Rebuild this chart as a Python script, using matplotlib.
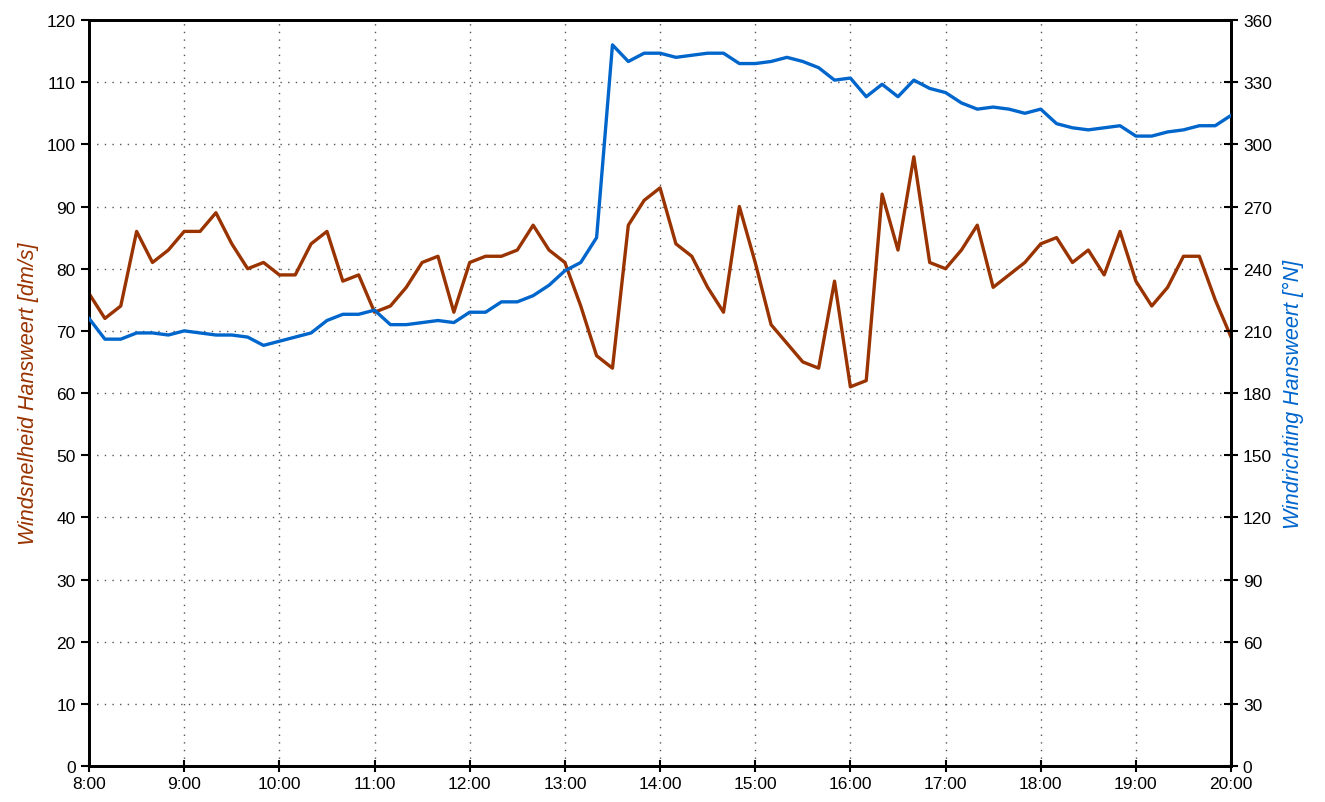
import matplotlib
import matplotlib.pyplot as plt
import numpy as np

matplotlib.use('Agg')

plt.rcParams['font.family'] = ['Liberation Sans', 'DejaVu Sans']

# 10-minute readings from 8:00 to 20:00
speed = [76, 72, 74, 86, 81, 83, 86, 86, 89, 84, 80, 81,
         79, 79, 84, 86, 78, 79, 73, 74, 77, 81, 82, 73,
         81, 82, 82, 83, 87, 83, 81, 74, 66, 64, 87, 91,
         93, 84, 82, 77, 73, 90, 81, 71, 68, 65, 64, 78,
         61, 62, 92, 83, 98, 81, 80, 83, 87, 77, 79, 81,
         84, 85, 81, 83, 79, 86, 78, 74, 77, 82, 82, 75,
         69]
direction = [216, 206, 206, 209, 209, 208, 210, 209, 208, 208, 207, 203,
             205, 207, 209, 215, 218, 218, 220, 213, 213, 214, 215, 214,
             219, 219, 224, 224, 227, 232, 239, 243, 255, 348, 340, 344,
             344, 342, 343, 344, 344, 339, 339, 340, 342, 340, 337, 331,
             332, 323, 329, 323, 331, 327, 325, 320, 317, 318, 317, 315,
             317, 310, 308, 307, 308, 309, 304, 304, 306, 307, 309, 309,
             314]
hour_labels = ['%d:00' % h for h in range(8, 21)]

brown = '#993300'
blue = '#0066CC'

t = np.arange(len(speed)) / 6.0

fig = plt.figure(figsize=(13.25, 8.03), dpi=100)
ax = fig.add_axes([0.0672, 0.0448, 0.8619, 0.929])
ax2 = ax.twinx()

ax.plot(t, speed, color=brown, lw=2.4, zorder=3)
ax2.plot(t, direction, color=blue, lw=2.4, zorder=3)

ax.set_xlim(0, 12)
ax.set_ylim(0, 120)
ax2.set_ylim(0, 360)
ax.set_xticks(np.arange(13))
ax.set_xticklabels(hour_labels)
ax.set_yticks(np.arange(0, 121, 10))
ax2.set_yticks(np.arange(0, 361, 30))

ax.grid(True, color='#555555', linestyle=(0, (1, 4.5)), lw=1.0)

for a in (ax, ax2):
    for s in a.spines.values():
        s.set_linewidth(2.0)
        s.set_color('black')

ax.tick_params(axis='y', direction='out', length=6, width=1.5, labelsize=12.5)
ax.tick_params(axis='x', direction='inout', length=8, width=1.5, labelsize=12.5)
ax2.tick_params(axis='y', direction='inout', length=10, width=1.5, labelsize=12.5)

ax.set_ylabel('Windsnelheid Hansweert [dm/s]', color=brown, fontsize=15.5,
              style='italic', labelpad=6)
ax2.set_ylabel('Windrichting Hansweert [°N]', color=blue, fontsize=15.5,
               style='italic', labelpad=8)

fig.savefig('out.png', dpi=100)
